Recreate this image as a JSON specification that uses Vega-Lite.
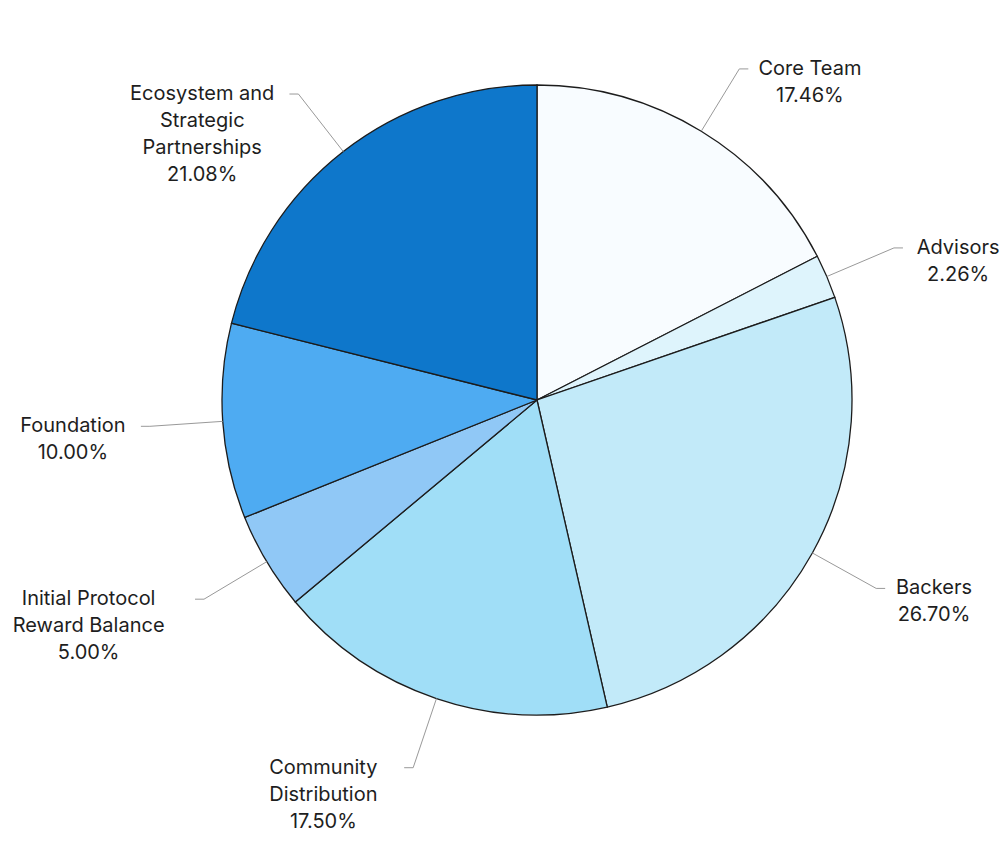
{
  "$schema": "https://vega.github.io/schema/vega-lite/v6.json",
  "width": 940,
  "height": 800,
  "autosize": {"type": "none"},
  "padding": {"left": 67, "top": 0, "right": 0, "bottom": 41},
  "background": "white",
  "config": {"view": {"stroke": null}},
  "data": {
    "values": [
      {"name": "Core Team", "label": "Core Team", "value": 17.46, "order": 1},
      {"name": "Advisors", "label": "Advisors", "value": 2.26, "order": 2},
      {"name": "Backers", "label": "Backers", "value": 26.70, "order": 3},
      {"name": "Community Distribution", "label": "Community\nDistribution", "value": 17.50, "order": 4},
      {"name": "Initial Protocol Reward Balance", "label": "Initial Protocol\nReward Balance", "value": 5.00, "order": 5},
      {"name": "Foundation", "label": "Foundation", "value": 10.00, "order": 6},
      {"name": "Ecosystem and Strategic Partnerships", "label": "Ecosystem and\nStrategic\nPartnerships", "value": 21.08, "order": 7}
    ]
  },
  "transform": [
    {"joinaggregate": [{"op": "sum", "field": "value", "as": "total"}]},
    {"window": [{"op": "sum", "field": "value", "as": "cum"}], "sort": [{"field": "order", "order": "ascending"}], "frame": [null, 0]},
    {"calculate": "(datum.cum - datum.value / 2) / datum.total * 2 * PI", "as": "mid"},
    {"calculate": "sin(datum.mid)", "as": "s"},
    {"calculate": "cos(datum.mid)", "as": "c"},
    {"calculate": "datum.s >= 0 ? 1 : -1", "as": "side"},
    {"calculate": "315 * datum.s", "as": "x1"},
    {"calculate": "315 * datum.c", "as": "y1"},
    {"calculate": "388 * datum.s", "as": "x2"},
    {"calculate": "388 * datum.c", "as": "y2"},
    {"calculate": "datum.x2 + datum.side * 9", "as": "x3"},
    {"calculate": "datum.label + '\\n' + format(datum.value, '.2f') + '%'", "as": "txt"},
    {"calculate": "split(datum.txt, '\\n')", "as": "lines"},
    {"calculate": "max(length(datum.lines[0]), length(datum.lines[1] || ''), length(datum.lines[2] || ''), length(datum.lines[3] || ''))", "as": "maxlen"},
    {"calculate": "datum.x3 + datum.side * (datum.maxlen * 6.4 + 4)", "as": "tx"}
  ],
  "layer": [
    {
      "mark": {"type": "arc", "outerRadius": 315, "stroke": "#1c1c1c", "strokeWidth": 1.3},
      "encoding": {
        "theta": {"field": "value", "type": "quantitative", "stack": true},
        "order": {"field": "order", "type": "quantitative"},
        "color": {
          "field": "name",
          "type": "nominal",
          "legend": null,
          "scale": {
            "domain": ["Core Team", "Advisors", "Backers", "Community Distribution", "Initial Protocol Reward Balance", "Foundation", "Ecosystem and Strategic Partnerships"],
            "range": ["#f8fcff", "#def4fc", "#c2eaf9", "#a0def7", "#90c8f6", "#4eabf2", "#0e77cb"]
          }
        }
      }
    },
    {
      "mark": {"type": "rule", "color": "#999999", "strokeWidth": 1},
      "encoding": {
        "x": {"field": "x1", "type": "quantitative", "axis": null, "scale": {"domain": [-470, 470], "nice": false, "zero": false}},
        "y": {"field": "y1", "type": "quantitative", "axis": null, "scale": {"domain": [-400, 400], "nice": false, "zero": false}},
        "x2": {"field": "x2"},
        "y2": {"field": "y2"}
      }
    },
    {
      "mark": {"type": "rule", "color": "#999999", "strokeWidth": 1},
      "encoding": {
        "x": {"field": "x2", "type": "quantitative", "axis": null, "scale": {"domain": [-470, 470], "nice": false, "zero": false}},
        "y": {"field": "y2", "type": "quantitative", "axis": null, "scale": {"domain": [-400, 400], "nice": false, "zero": false}},
        "x2": {"field": "x3"}
      }
    },
    {
      "mark": {"type": "text", "align": "center", "baseline": "middle", "lineBreak": "\n", "font": "Inter", "fontSize": 20, "lineHeight": 27, "color": "#1e1e1e"},
      "encoding": {
        "x": {"field": "tx", "type": "quantitative", "axis": null, "scale": {"domain": [-470, 470], "nice": false, "zero": false}},
        "y": {"field": "y2", "type": "quantitative", "axis": null, "scale": {"domain": [-400, 400], "nice": false, "zero": false}},
        "text": {"field": "txt"}
      }
    }
  ]
}
